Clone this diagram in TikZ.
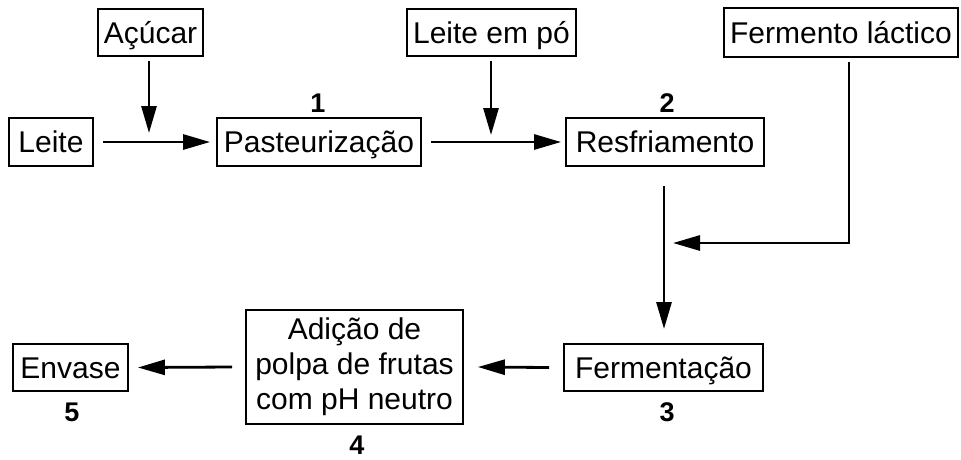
\documentclass[tikz,border=0pt]{standalone}
\usepackage{fontspec}
\setmainfont{Liberation Sans}
\usetikzlibrary{arrows.meta}
\begin{document}
\begin{tikzpicture}[x=1pt,y=-1pt,
  box/.style={draw,line width=1.8pt,inner sep=0pt,align=center,font=\fontsize{30}{35}\selectfont},
  onel/.style={text height=21.5pt,text depth=0pt},
  num/.style={font=\fontsize{27}{30}\selectfont\bfseries,inner sep=0pt},
  arr/.style={line width=2.8pt,-{Triangle[length=27pt,width=15pt]}},
  ln/.style={line width=2.8pt}]
\useasboundingbox (0,0) rectangle (961,459);
\node[box,onel,minimum width=105pt,minimum height=47pt] (acucar) at (150.5,32.5) {Açúcar};
\node[box,onel,minimum width=169pt,minimum height=47pt] (leitepo) at (491.5,32.5) {Leite em pó};
\node[box,onel,minimum width=234pt,minimum height=49pt] (fermento) at (841,32.5) {Fermento láctico};
\node[box,onel,minimum width=84pt,minimum height=48pt] (leite) at (51,142) {Leite};
\node[box,onel,minimum width=204pt,minimum height=48pt] (past) at (319,142) {Pasteurização};
\node[box,onel,minimum width=198pt,minimum height=48pt] (resf) at (665,142) {Resfriamento};
\node[box,onel,minimum width=199pt,minimum height=47pt] (ferm) at (663.5,367.5) {Fermentação};
\node[box,minimum width=217pt,minimum height=114pt] (adicao) at (354.5,367) {Adição de\\polpa de frutas\\com pH neutro};
\node[box,onel,minimum width=115pt,minimum height=47pt] (envase) at (70.5,367.5) {Envase};
\node[num] (n1) at (318,103) {1};
\node[num] (n2) at (667,103) {2};
\node[num] (n3) at (667,412) {3};
\node[num] (n4) at (357,445) {4};
\node[num] (n5) at (72,412) {5};
\coordinate (acucarend) at (149,133);
\coordinate (leitepoend) at (491,135);
\coordinate (fcorner) at (849,243);
\coordinate (fend) at (673,243);
\draw[arr] ([xshift=9pt]leite.east) -- ([xshift=-6pt]past.west);
\draw[arr] (acucarend |- 0,61) -- (acucarend);
\draw[arr] ([xshift=9pt]past.east) -- ([xshift=-4pt]resf.west);
\draw[arr] (leitepoend |- 0,61) -- (leitepoend);
\draw[arr] (664,186) -- (664,329);
\draw[arr] (fcorner |- 0,62) -- (fcorner) -- (fend);
\draw[arr] ([xshift=-14pt]ferm.west) -- ([xshift=14pt]adicao.east);
\draw[arr] ([xshift=-13pt]adicao.west) -- ([xshift=9pt]envase.east);
\end{tikzpicture}
\end{document}
